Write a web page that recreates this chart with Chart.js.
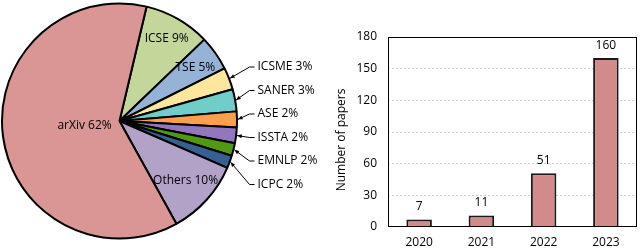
<!DOCTYPE html>
<html>
<head>
<meta charset="utf-8">
<script src="https://cdn.jsdelivr.net/npm/chart.js@4"></script>
<style>
  html, body { margin: 0; padding: 0; background: #fff; }
  #wrap { position: relative; width: 640px; height: 248px; overflow: hidden; }
  #pieBox { position: absolute; left: 0; top: 0; width: 320px; height: 248px; }
  #barBox { position: absolute; left: 320px; top: 0; width: 320px; height: 248px; }
</style>
</head>
<body>
<div id="wrap">
  <div id="pieBox"><canvas id="pie"></canvas></div>
  <div id="barBox"><canvas id="bar"></canvas></div>
</div>
<script>
// venue share (paper counts), clockwise from the top
const venues = ['ICSE', 'TSE', 'ICSME', 'SANER', 'ASE', 'ISSTA', 'EMNLP', 'ICPC', 'Others', 'arXiv']
const venueCounts = [21, 11, 7, 7, 5, 5, 4, 4, 24, 142]
const venuePct = ['9%', '5%', '3%', '3%', '2%', '2%', '2%', '2%', '10%', '62%']
const venueColors = ['#c4d79b', '#95b3d7', '#fee79c', '#6fcdca', '#f9a04f', '#9277bf', '#4f9a12', '#366092', '#b3a2c8', '#da9694']

// papers per year
const years = ['2020', '2021', '2022', '2023']
const papers = [7, 11, 51, 160]
const yTicks = [0, 30, 60, 90, 120, 150, 180]

const FONT = '"Open Sans", "Noto Sans", sans-serif'
Chart.defaults.font.family = FONT
Chart.defaults.color = '#000'

// labels inside big slices, leader lines for the small ones
const pieLabels = {
  id: 'pieLabels',
  afterDatasetsDraw(chart) {
    const ctx = chart.ctx
    const arcs = chart.getDatasetMeta(0).data
    const inner = { 0: 0.81, 1: 0.79, 8: 0.76, 9: 0.3 }
    const outside = [2, 3, 4, 5, 6, 7]
    ctx.save()
    ctx.font = '12px ' + FONT
    ctx.fillStyle = '#000'
    ctx.textBaseline = 'middle'
    arcs.forEach((a, i) => {
      const mid = (a.startAngle + a.endAngle) / 2
      const text = venues[i] + ' ' + venuePct[i]
      if (inner[i] !== undefined) {
        const r = a.outerRadius * inner[i]
        ctx.textAlign = 'center'
        ctx.fillText(text, a.x + Math.cos(mid) * r, a.y + Math.sin(mid) * r)
      }
    })
    outside.forEach((i, k) => {
      const a = arcs[i]
      const mid = (a.startAngle + a.endAngle) / 2
      const tipX = a.x + Math.cos(mid) * (a.outerRadius + 1)
      const tipY = a.y + Math.sin(mid) * (a.outerRadius + 1)
      const ly = a.y - 54 + k * 23.5
      const elbowX = a.x + 130
      const textX = a.x + 138
      ctx.strokeStyle = '#000'
      ctx.lineWidth = 1
      ctx.beginPath()
      ctx.moveTo(textX - 3, ly)
      ctx.lineTo(elbowX, ly)
      ctx.lineTo(tipX, tipY)
      ctx.stroke()
      // arrow head
      const ang = Math.atan2(tipY - ly, tipX - elbowX)
      ctx.beginPath()
      ctx.moveTo(tipX, tipY)
      ctx.lineTo(tipX - 5 * Math.cos(ang - 0.4), tipY - 5 * Math.sin(ang - 0.4))
      ctx.lineTo(tipX - 5 * Math.cos(ang + 0.4), tipY - 5 * Math.sin(ang + 0.4))
      ctx.closePath()
      ctx.fill()
      ctx.textAlign = 'left'
      ctx.fillText(venues[i] + ' ' + venuePct[i], textX, ly)
    })
    ctx.restore()
  }
}

new Chart(document.getElementById('pie'), {
  type: 'pie',
  data: {
    labels: venues,
    datasets: [{
      data: venueCounts,
      backgroundColor: venueColors,
      borderColor: '#000',
      borderWidth: 2
    }]
  },
  options: {
    responsive: true,
    maintainAspectRatio: false,
    animation: false,
    rotation: 13.3,
    layout: { padding: { left: 1, right: 82, top: 2, bottom: 8 } },
    plugins: { legend: { display: false }, tooltip: { enabled: false } }
  },
  plugins: [pieLabels]
})

// frame round the plot, axis title and the value above each bar
const barExtras = {
  id: 'barExtras',
  afterDatasetsDraw(chart) {
    const ctx = chart.ctx
    const ca = chart.chartArea
    ctx.save()
    ctx.strokeStyle = '#000'
    ctx.lineWidth = 1
    ctx.strokeRect(ca.left + 0.5, ca.top + 0.5, ca.right - ca.left - 1, ca.bottom - ca.top - 1)
    ctx.font = '12px ' + FONT
    ctx.fillStyle = '#000'
    ctx.textAlign = 'center'
    ctx.textBaseline = 'middle'
    chart.getDatasetMeta(0).data.forEach((b, i) => {
      ctx.fillText(String(papers[i]), b.x, b.y - 13)
    })
    ctx.translate(22, 140)
    ctx.rotate(-Math.PI / 2)
    ctx.fillText('Number of papers', 0, 0)
    ctx.restore()
  }
}

new Chart(document.getElementById('bar'), {
  type: 'bar',
  data: {
    labels: years,
    datasets: [{
      data: papers,
      backgroundColor: '#d08b8a',
      borderColor: '#1a1a1a',
      borderWidth: 2,
      categoryPercentage: 1,
      barPercentage: 0.41
    }]
  },
  options: {
    responsive: true,
    maintainAspectRatio: false,
    animation: false,
    layout: { padding: { left: 0, right: 3, top: 37, bottom: 0 } },
    plugins: { legend: { display: false }, tooltip: { enabled: false } },
    scales: {
      x: {
        grid: { display: false, drawTicks: false },
        border: { display: false },
        ticks: { font: { size: 12 }, color: '#000', padding: 8 },
        afterFit(s) { s.height = 21 }
      },
      y: {
        min: 0,
        max: 180,
        afterBuildTicks(s) { s.ticks = yTicks.map(v => ({ value: v })) },
        grid: {
          drawTicks: false,
          color: ctx => (ctx.tick.value === 0 || ctx.tick.value === 180) ? 'rgba(0,0,0,0)' : '#cfcfcf'
        },
        border: { display: false, dash: [2, 2] },
        ticks: { font: { size: 12 }, color: '#000', padding: 11 },
        afterFit(s) { s.width = 68 }
      }
    }
  },
  plugins: [barExtras]
})
</script>
</body>
</html>
